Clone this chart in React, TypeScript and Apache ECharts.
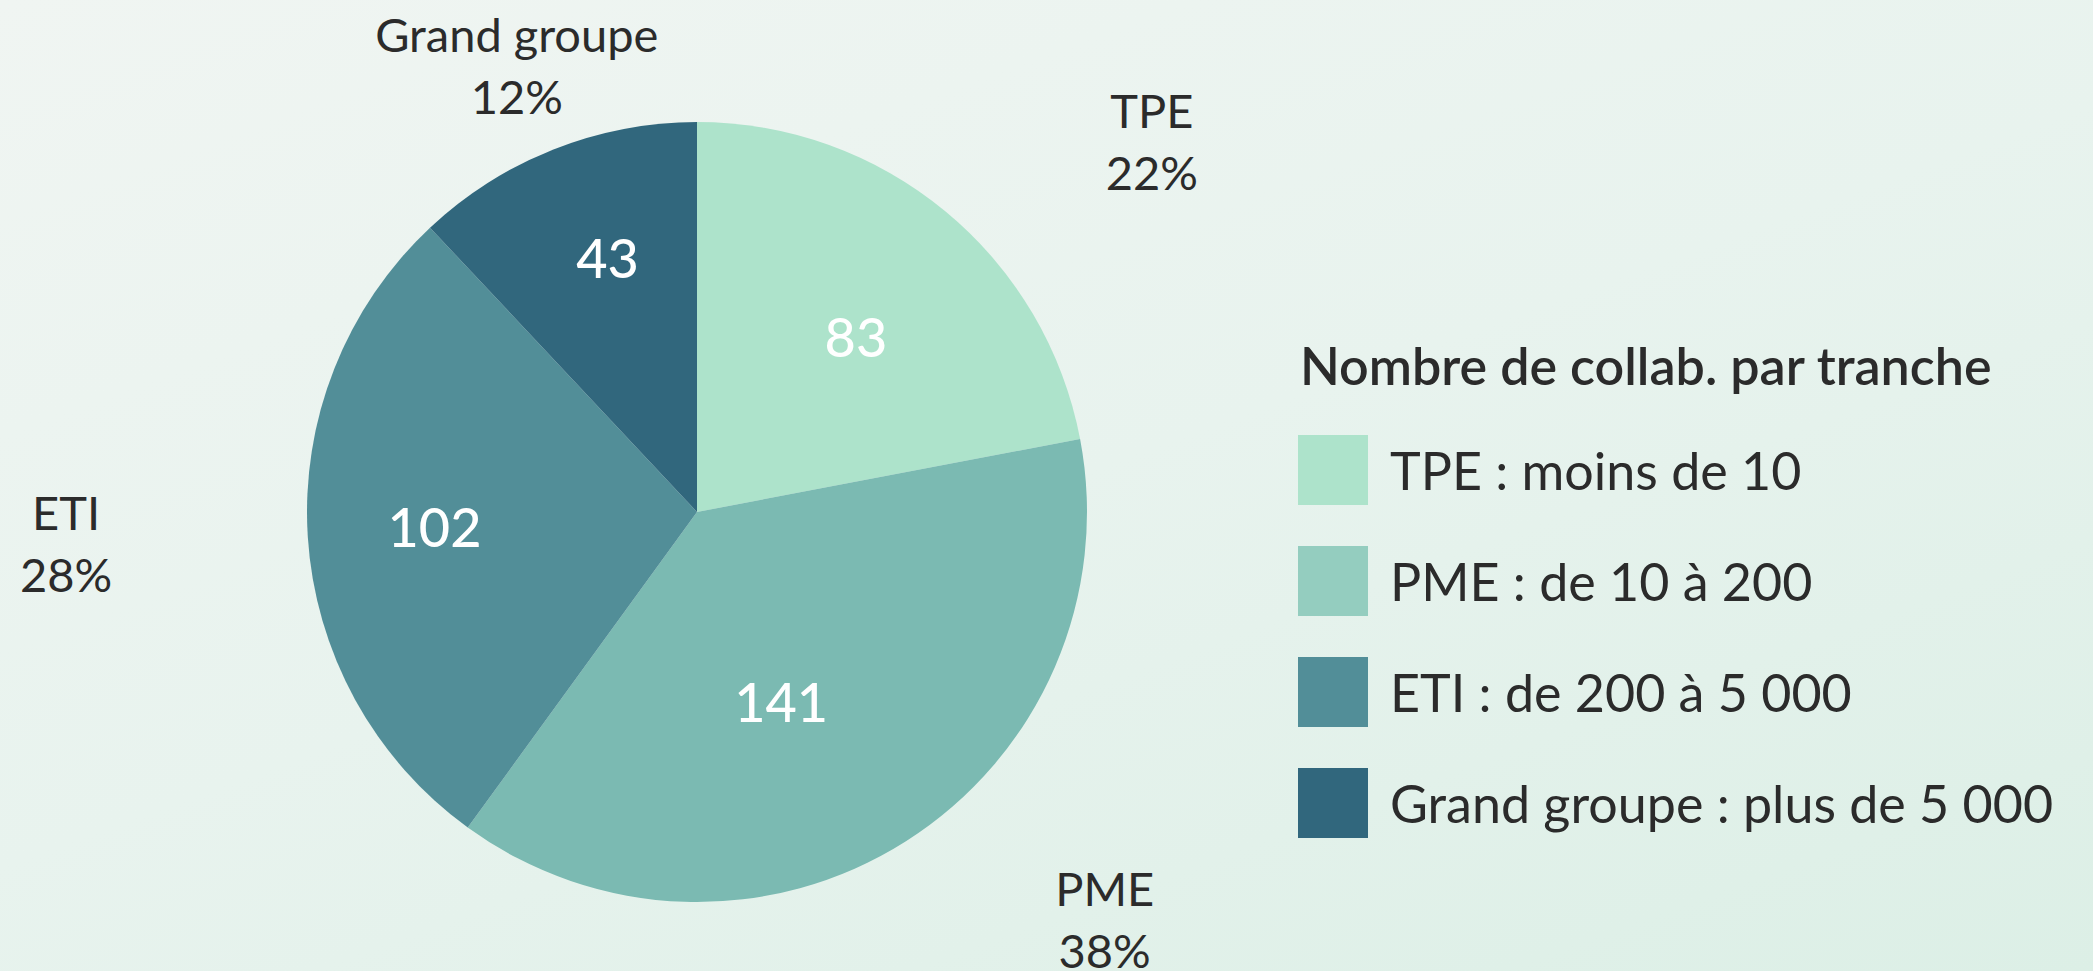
import React, { useEffect, useRef } from "react";
import * as echarts from "echarts";

const categories = ["TPE", "PME", "ETI", "Grand groupe"];
// percentages shown on the outer labels (slices are drawn from them)
const percents = [22, 38, 28, 12];
// headcounts shown inside the slices
const counts = [83, 141, 102, 43];
const legendLabels = [
  "TPE : moins de 10",
  "PME : de 10 à 200",
  "ETI : de 200 à 5 000",
  "Grand groupe : plus de 5 000",
];
const legendTitle = "Nombre de collab. par tranche";

const sliceColors = ["#ade3cb", "#7bbab2", "#528e98", "#31677d"];
const legendColors = ["#ade3cb", "#94cdbf", "#528e98", "#31677d"];

// label fine-tuning offsets (styling)
const innerOffsets = [
  [4, 12],
  [-46, -16],
  [-20, -1],
  [0, -29],
];
const outerOffsets = [
  [96, 63],
  [106, -68],
  [-69, -4],
  [27, 76],
];

const FONT = "Lato, 'Open Sans', sans-serif";

export default function App() {
  const ref = useRef<HTMLDivElement>(null);
  useEffect(() => {
    if (!ref.current) return;
    const chart = echarts.init(ref.current, undefined, { renderer: "svg" });
    const data = categories.map((c, i) => ({
      name: c,
      value: percents[i],
      count: counts[i],
      itemStyle: { color: sliceColors[i] },
    }));
    const ghost = categories.map((c, i) => ({
      name: c,
      value: percents[i],
      itemStyle: { color: "rgba(0,0,0,0)" },
    }));
    const center = [697, 512];
    chart.setOption({
      animation: false,
      backgroundColor: "transparent",
      title: {
        text: legendTitle,
        left: 1295,
        top: 334,
        textStyle: {
          fontFamily: FONT,
          fontSize: 52,
          fontWeight: 600,
          color: "#2b2b2b",
        },
      },
      legend: {
        orient: "vertical",
        left: 1293,
        top: 430,
        itemWidth: 70,
        itemHeight: 70,
        itemGap: 41,
        icon: "rect",
        selectedMode: false,
        data: categories.map((c, i) => ({
          name: c,
          itemStyle: { color: legendColors[i], borderWidth: 0 },
        })),
        formatter: (name: string) => legendLabels[categories.indexOf(name)],
        textStyle: {
          fontFamily: FONT,
          fontSize: 52,
          color: "#2b2b2b",
          padding: [0, 0, 0, 17],
        },
      },
      series: [
        {
          type: "pie",
          center,
          radius: [0, 390],
          startAngle: 90,
          clockwise: true,
          silent: true,
          label: { show: false },
          labelLine: { show: false },
          data,
        },
        {
          type: "pie",
          center,
          radius: [90, 390],
          startAngle: 90,
          clockwise: true,
          silent: true,
          label: {
            show: true,
            position: "inside",
            formatter: (p: any) => String(counts[p.dataIndex]),
            fontFamily: FONT,
            fontSize: 54,
            fontWeight: 500,
            color: "#ffffff",
          },
          labelLine: { show: false },
          labelLayout: (p: any) => ({
            dx: innerOffsets[p.dataIndex][0],
            dy: innerOffsets[p.dataIndex][1],
          }),
          data: ghost,
        },
        {
          type: "pie",
          center,
          radius: [500, 620],
          startAngle: 90,
          clockwise: true,
          silent: true,
          label: {
            show: true,
            position: "inside",
            formatter: (p: any) =>
              `${p.name}\n${percents[p.dataIndex]}%`,
            fontFamily: FONT,
            fontSize: 47,
            lineHeight: 62,
            color: "#2b2b2b",
            align: "center",
          },
          labelLine: { show: false },
          labelLayout: (p: any) => ({
            dx: outerOffsets[p.dataIndex][0],
            dy: outerOffsets[p.dataIndex][1],
          }),
          data: ghost,
        },
      ],
    });
    return () => chart.dispose();
  }, []);
  return (
    <div
      style={{
        position: "fixed",
        left: 0,
        top: 0,
        width: 2093,
        height: 971,
        background:
          "linear-gradient(160deg, #f0f5f2 0%, #e8f3ee 50%, #dcefe6 100%)",
      }}
    >
      <div ref={ref} style={{ width: 2093, height: 971 }} />
    </div>
  );
}
